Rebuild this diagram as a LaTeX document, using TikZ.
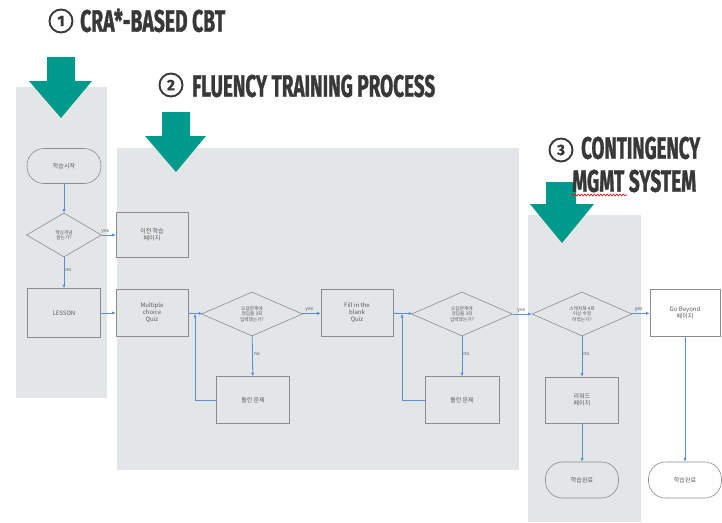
\documentclass[tikz,border=0pt]{standalone}
\usepackage{fontspec}
\setmainfont{Noto Sans CJK KR}
\newfontfamily\headfont{Fira Sans}[BoldFeatures={FakeBold=1.5}]
\usetikzlibrary{shapes.geometric,arrows.meta,decorations.pathmorphing}
\definecolor{panelgray}{HTML}{E3E6E7}
\definecolor{teal}{HTML}{009A8C}
\definecolor{headc}{HTML}{383838}
\definecolor{flowblue}{HTML}{5A8ED6}
\definecolor{boxline}{HTML}{8C8C8C}
\definecolor{txt}{HTML}{5A5A5A}
\tikzset{
  panel/.style={fill=panelgray, draw=none},
  bigarrow/.style={fill=teal, draw=none},
  stepbox/.style={draw=boxline, line width=0.6pt, minimum width=72pt, minimum height=47pt,
    align=center, inner sep=1pt, text=txt, font=\fontsize{6}{7}\selectfont},
  terminal/.style={draw=boxline, line width=0.6pt, rounded corners=17pt, minimum width=74pt,
    minimum height=35pt, align=center, text=txt, font=\fontsize{6}{7}\selectfont},
  decision/.style={diamond, draw=boxline, line width=0.6pt, minimum width=101pt, minimum height=44pt,
    inner sep=0pt, align=center, text=txt, font=\fontsize{4.7}{5.4}\selectfont},
  flow/.style={draw=flowblue, line width=0.8pt, -{Latex[length=3.5pt,width=3.2pt]}},
  lbl/.style={text=txt, font=\fontsize{5}{5}\selectfont, inner sep=1pt},
  numcirc/.style={circle, draw=headc, line width=1.9pt, minimum size=23pt, inner sep=0pt,
    text=headc, font=\headfont\bfseries\fontsize{15}{15}\selectfont},
  heading/.style={anchor=west, inner sep=0pt, text=headc}
}
\begin{document}
\begin{tikzpicture}[x=1pt,y=-1pt]
\useasboundingbox (0,0) rectangle (722,522);

% background panels of the three stages
\fill[panel] (16,87) rectangle (107,398);
\fill[panel] (117,148) rectangle (519,470);
\fill[panel] (528,215) rectangle (641,522);

% stage arrows
\fill[bigarrow] (47,57) -- (75,57) -- (75,81) -- (92,81) -- (61,118) -- (29,81) -- (47,81) -- cycle;
\fill[bigarrow] (162,112) -- (190,112) -- (190,136) -- (206,136) -- (176,172) -- (145,136) -- (162,136) -- cycle;
\fill[bigarrow] (546,182) -- (576,182) -- (576,204) -- (594,204) -- (562,243) -- (530,204) -- (546,204) -- cycle;

% stage headings
\node[numcirc] (c1) at (61,21) {1};
\node[heading] (h1) at (80,20.5) {\resizebox{145pt}{23pt}{\headfont\bfseries CRA*-BASED CBT}};
\node[numcirc] (c2) at (171,85) {2};
\node[heading] (h2) at (192,86) {\resizebox{243pt}{22pt}{\headfont\bfseries FLUENCY TRAINING PROCESS}};
\node[numcirc] (c3) at (561,150) {3};
\node[heading] (h3) at (581,148) {\resizebox{119pt}{22pt}{\headfont\bfseries CONTINGENCY}};
\node[heading] (h4) at (572,181) {\resizebox{124pt}{22pt}{\headfont\bfseries MGMT SYSTEM}};
\draw[red, line width=0.6pt, decorate, decoration={snake, amplitude=0.9pt, segment length=3.2pt}] (571,195) -- (627,195);

% stage 1
\node[terminal] (start) at (64,166) {학습시작};
\node[decision, minimum width=75pt] (know) at (64,235) {핵심개념\\알는가?};
\node[stepbox, minimum height=45pt] (prev) at (152,235) {이전 학습\\페이지};
\node[stepbox, minimum width=73pt, minimum height=49pt] (lesson) at (64,313) {LESSON};

% stage 2
\node[stepbox] (mcq) at (152,313) {Multiple\\choice\\Quiz};
\node[decision] (chk1) at (252,314) {오답문제에\\정답을 3회\\입력했는가?};
\node[stepbox, minimum width=73pt] (wrong1) at (253,400) {틀린 문제};
\node[stepbox] (fib) at (357,313) {Fill in the\\blank\\Quiz};
\node[decision] (chk2) at (462,314) {오답문제에\\정답을 3회\\입력했는가?};
\node[stepbox, minimum width=74pt] (wrong2) at (462,400) {틀린 문제};

% stage 3
\node[decision, minimum width=100pt] (chk3) at (582,314) {스케치북 4회\\이상 수정\\하였는가?};
\node[stepbox, fill=white, minimum width=70pt] (beyond) at (685,313) {Go Beyond\\페이지};
\node[stepbox, minimum width=73pt, minimum height=46pt] (reward) at (582,400) {리워드\\페이지};
\node[terminal, minimum width=73pt, minimum height=36pt] (end1) at (582,480) {학습완료};
\node[terminal, fill=white, minimum width=73pt, minimum height=36pt] (end2) at (685,480) {학습완료};

% loop-back joins
\coordinate (join1) at (195,314);
\coordinate (join2) at (402,314);

% connectors
\draw[flow] (start) -- (know);
\draw[flow] (know) -- node[lbl, above, pos=0.25] {yes} (prev);
\draw[flow] (know) -- node[lbl, right, pos=0.4] {no} (lesson);
\draw[flow] (lesson) -- (mcq);
\draw[flow] (mcq) -- (chk1);
\draw[flow] (chk1) -- node[lbl, above, pos=0.4] {yes} (fib);
\draw[flow] (chk1) -- node[lbl, right, pos=0.45] {no} (wrong1);
\draw[flow] (wrong1.west) -| (join1);
\draw[flow] (fib) -- (chk2);
\draw[flow] (chk2) -- node[lbl, above, pos=0.45] {yes} (chk3);
\draw[flow] (chk2) -- node[lbl, right, pos=0.45] {no} (wrong2);
\draw[flow] (wrong2.west) -| (join2);
\draw[flow] (chk3) -- node[lbl, above, pos=0.4] {yes} (beyond);
\draw[flow] (chk3) -- node[lbl, right, pos=0.45] {no} (reward);
\draw[flow] (reward) -- (end1);
\draw[flow] (beyond) -- (end2);
\end{tikzpicture}
\end{document}
